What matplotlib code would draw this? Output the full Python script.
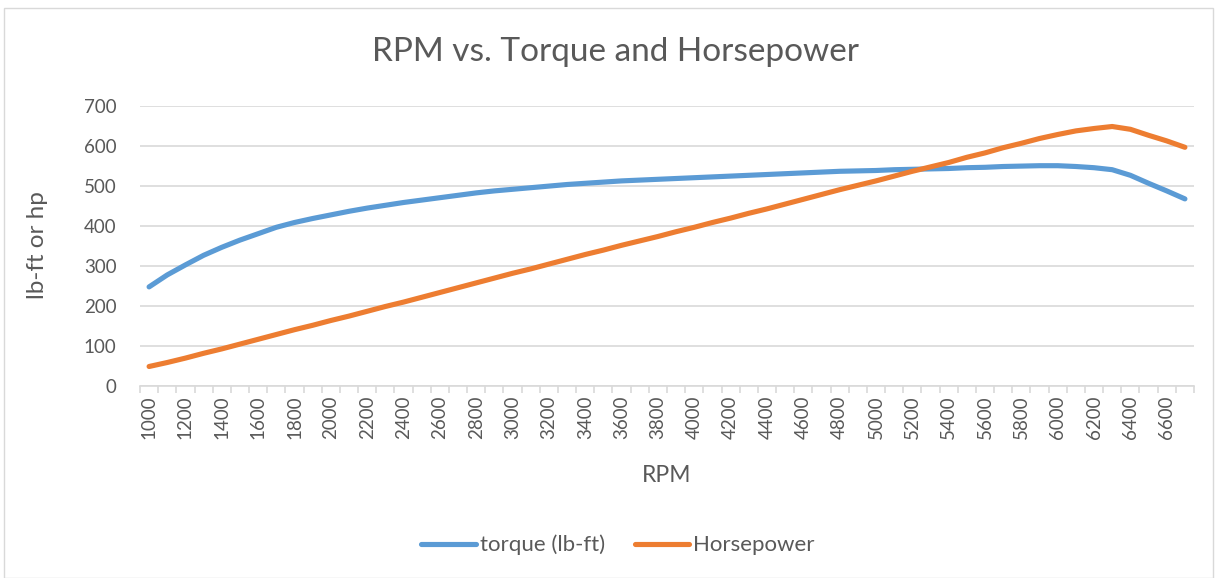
import numpy as np
import matplotlib
matplotlib.use("Agg")
import matplotlib.pyplot as plt
from matplotlib.patches import Rectangle

# данные (шаг 100 об/мин)
rpm = list(range(1000, 6800, 100))
torque = [247, 277, 302, 326, 346, 364, 380, 396, 408, 418,
          427, 436, 444, 451, 458, 464, 470, 476, 482, 487,
          491, 495, 499, 503, 506, 509, 512, 514, 516, 518,
          520, 522, 524, 526, 528, 530, 532, 534, 536, 537,
          538, 540, 541, 542, 543, 545, 546, 548, 549, 550,
          550, 548, 545, 540, 526, 506, 487, 467]
horsepower = [48, 58, 69, 81, 92, 104, 116, 128, 140, 151,
              163, 174, 186, 198, 209, 221, 233, 245, 257, 269,
              281, 292, 304, 316, 328, 339, 351, 362, 373, 385,
              396, 408, 419, 431, 442, 454, 466, 478, 490, 501,
              512, 524, 536, 547, 558, 571, 582, 595, 606, 618,
              628, 637, 643, 648, 641, 626, 612, 596]

plt.rcParams['font.family'] = ['Lato', 'DejaVu Sans']
grey = '#595959'
W, H = 1217, 578

fig = plt.figure(figsize=(W / 100, H / 100), dpi=100)
fig.patches.append(Rectangle((4 / W, 0.5 / H), (W - 8) / W, (H - 8) / H,
                             transform=fig.transFigure, fill=False,
                             edgecolor='#d9d9d9', lw=1))

ax = fig.add_axes([140 / W, 1 - 385.7 / H, (1194 - 140) / W, (385.7 - 105.7) / H])
x = np.arange(len(rpm))
ax.plot(x, torque, color='#5b9bd5', lw=3.7, solid_capstyle='round', label='torque (lb-ft)')
ax.plot(x, horsepower, color='#ed7d31', lw=3.7, solid_capstyle='round', label='Horsepower')

ax.set_xlim(-0.5, len(rpm) - 0.5)
ax.set_ylim(0, 700)
ax.set_yticks(range(0, 701, 100))
ax.yaxis.grid(True, color='#d9d9d9', lw=1.2)
ax.set_axisbelow(True)
for s in ['top', 'right', 'left']:
    ax.spines[s].set_visible(False)
ax.spines['bottom'].set_color('#d9d9d9')
ax.spines['bottom'].set_linewidth(1.2)

# подписи через одну категорию, засечки между категориями
ax.set_xticks(x[::2])
ax.set_xticklabels([str(r) for r in rpm[::2]], rotation=90)
ax.set_xticks(np.arange(-0.5, len(rpm)), minor=True)
ax.tick_params(axis='x', which='major', length=0, labelsize=13.5, labelcolor=grey, pad=7)
ax.tick_params(axis='x', which='minor', length=5, color='#d9d9d9', width=1.2)
ax.tick_params(axis='y', length=0, labelsize=13.5, labelcolor=grey, pad=17)

fig.text(615 / W, 1 - 52 / H, 'RPM vs. Torque and Horsepower', ha='center', va='center',
         fontsize=24, color=grey)
fig.text(667 / W, 1 - 475 / H, 'RPM', ha='center', va='center', fontsize=16.5, color=grey)
fig.text(37 / W, 1 - 245 / H, 'lb-ft or hp', ha='center', va='center', rotation=90,
         fontsize=17.5, color=grey)

leg = fig.legend(loc='center', bbox_to_anchor=(618 / W, 1 - 545 / H), ncol=2, frameon=False,
                 fontsize=16, handlelength=2.45, handletextpad=0.18, columnspacing=1.36)
for t in leg.get_texts():
    t.set_color(grey)

fig.savefig('out.png', dpi=100)
